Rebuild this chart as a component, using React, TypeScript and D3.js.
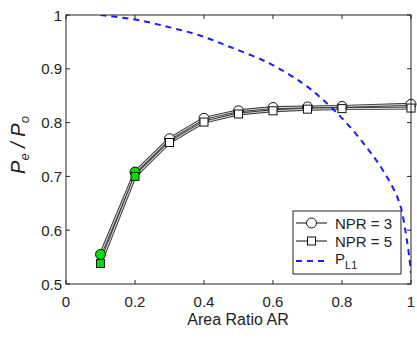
import React from "react";
import * as d3 from "d3";

const areaRatio = [0.1, 0.2, 0.3, 0.4, 0.5, 0.6, 0.7, 0.8, 1.0];
const npr3 = [0.555, 0.708, 0.770, 0.808, 0.822, 0.828, 0.829, 0.830, 0.834];
const npr5 = [0.538, 0.700, 0.763, 0.801, 0.816, 0.822, 0.825, 0.826, 0.827];
const greenUpTo = 0.2;
const plX = [0.1, 0.205, 0.301, 0.388, 0.474, 0.59, 0.686, 0.744, 0.812, 0.87, 0.918, 0.966, 0.986, 0.995, 1.0];
const plY = [1.0, 0.991, 0.977, 0.962, 0.941, 0.91, 0.873, 0.843, 0.8, 0.755, 0.712, 0.652, 0.59, 0.55, 0.52];
const xTicks = [0, 0.2, 0.4, 0.6, 0.8, 1];
const yTicks = [0.5, 0.6, 0.7, 0.8, 0.9, 1];
const legendLabels = ["NPR = 3", "NPR = 5"];

const W = 417, H = 339;
const L = 66, R = 411, T = 15, B = 284;
const font = "'Liberation Sans', Arial, sans-serif";
const textColor = "#222";

export default function App() {
  const x = d3.scaleLinear().domain([0, 1]).range([L, R]);
  const y = d3.scaleLinear().domain([0.5, 1]).range([B, T]);
  const line = d3.line<[number, number]>().x((d) => x(d[0])).y((d) => y(d[1]));
  const s3 = line(areaRatio.map((a, i) => [a, npr3[i]]))!;
  const s5 = line(areaRatio.map((a, i) => [a, npr5[i]]))!;
  const pl = d3.line<[number, number]>().x((d) => x(d[0])).y((d) => y(d[1])).curve(d3.curveCatmullRom.alpha(0.5))(
    plX.map((a, i) => [a, plY[i]])
  )!;
  const tl = 4;
  const lx = 293, ly = 211, lw = 108, lh = 63;
  return (
    <svg width={W} height={H} style={{ position: "absolute", left: 0, top: 0 }}>
      <rect x={0} y={0} width={W} height={H} fill="white" />
      <defs>
        <clipPath id="plot">
          <rect x={L} y={T} width={R - L} height={B - T} />
        </clipPath>
      </defs>
      {xTicks.map((t) => (
        <g key={"xt" + t}>
          <line x1={x(t)} x2={x(t)} y1={B} y2={B - tl} stroke="#222" />
          <line x1={x(t)} x2={x(t)} y1={T} y2={T + tl} stroke="#222" />
          <text x={x(t)} y={306.5} textAnchor="middle" fontFamily={font} fontSize={15} fill={textColor}>
            {t === 0 || t === 1 ? String(t) : t.toFixed(1)}
          </text>
        </g>
      ))}
      {yTicks.map((t) => (
        <g key={"yt" + t}>
          <line x1={L} x2={L + tl} y1={y(t)} y2={y(t)} stroke="#222" />
          <line x1={R} x2={R - tl} y1={y(t)} y2={y(t)} stroke="#222" />
          <text x={62} y={y(t) + 5.5} textAnchor="end" fontFamily={font} fontSize={15} fill={textColor}>
            {t === 1 ? "1" : t.toFixed(1)}
          </text>
        </g>
      ))}
      {[s3, s5].map((d, i) => (
        <g key={"s" + i}>
          <path d={d} fill="none" stroke="#333" strokeWidth={3} />
          <path d={d} fill="none" stroke="#ccc" strokeWidth={1.2} />
        </g>
      ))}
      {areaRatio.map((a, i) => (
        <circle key={"c" + i} cx={x(a)} cy={y(npr3[i])} r={5}
          fill={a <= greenUpTo ? "#00e000" : "white"} stroke="#111" strokeWidth={1} />
      ))}
      {areaRatio.map((a, i) => (
        <rect key={"r" + i} x={x(a) - 4} y={y(npr5[i]) - 4} width={8} height={8}
          fill={a <= greenUpTo ? "#00e000" : "white"} stroke="#111" strokeWidth={1} />
      ))}
      <path d={pl} fill="none" stroke="#1a1aff" strokeWidth={2} strokeDasharray="6,5" clipPath="url(#plot)" />
      <rect x={L} y={T} width={R - L} height={B - T} fill="none" stroke="#222" strokeWidth={1} />
      <rect x={lx} y={ly} width={lw} height={lh} fill="white" stroke="#222" strokeWidth={1} />
      {legendLabels.map((lab, i) => {
        const cy = 223 + i * 18;
        return (
          <g key={"lg" + i}>
            <line x1={296} x2={327} y1={cy} y2={cy} stroke="#111" strokeWidth={1} />
            {i === 0 ? (
              <circle cx={311.5} cy={cy} r={5} fill="white" stroke="#111" />
            ) : (
              <rect x={307.5} y={cy - 4} width={8} height={8} fill="white" stroke="#111" />
            )}
            <text x={335} y={cy + 5.5} fontFamily={font} fontSize={15} fill={textColor}>{lab}</text>
          </g>
        );
      })}
      <line x1={296} x2={327} y1={261} y2={261} stroke="#1a1aff" strokeWidth={2} strokeDasharray="6,5" />
      <text x={335} y={264} fontFamily={font} fontSize={15} fill={textColor}>
        P<tspan fontSize={11} dy={5}>L1</tspan>
      </text>
      <text x={238} y={325} textAnchor="middle" fontFamily={font} fontSize={16} fill={textColor}>Area Ratio AR</text>
      <text transform="translate(25,145) rotate(-90)" textAnchor="middle" fontFamily={font} fontSize={20} fill={textColor} fontStyle="italic">
        P<tspan fontSize={13} dy={4}>e</tspan><tspan dy={-4} fontSize={20}>{"\u00a0/\u00a0"}P</tspan><tspan fontSize={13} dy={4}>o</tspan>
      </text>
    </svg>
  );
}
